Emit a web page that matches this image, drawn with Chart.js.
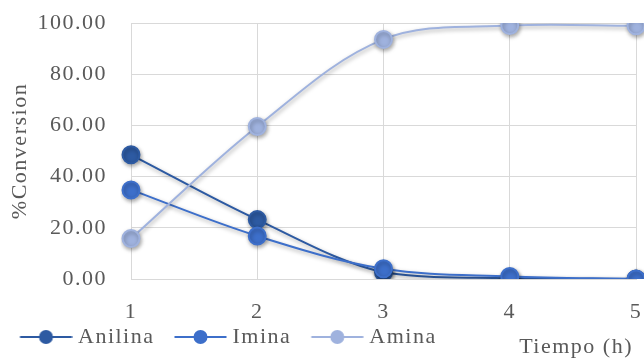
<!DOCTYPE html>
<html>
<head>
<meta charset="utf-8">
<script src="https://cdn.jsdelivr.net/npm/chart.js@4/dist/chart.umd.min.js"></script>
<style>
  html, body { margin: 0; padding: 0; background: #ffffff; }
  #wrap { width: 644px; height: 358px; position: relative; }
</style>
</head>
<body>
<div id="wrap"><canvas id="c" width="644" height="358"></canvas></div>
<script>
const categories = ['1', '2', '3', '4', '5'];
const seriesNames = ['Anilina', 'Imina', 'Amina'];
const anilina = [48.5, 23.2, 2.6, 0.3, 0.0];
const imina = [34.8, 16.8, 4.0, 1.0, 0.0];
const amina = [15.8, 59.6, 93.6, 99.0, 98.9];
const yTicks = [0, 20, 40, 60, 80, 100];
const colors = ['#2D5AA2', '#3D6FCA', '#9FB2DE'];

const FONT = 'Liberation Serif';
const TEXT = '#595959';
const SPACING = '1.5px';

function legendIcon(color) {
  const c = document.createElement('canvas');
  c.width = 78; c.height = 18;
  const g = c.getContext('2d');
  g.strokeStyle = color; g.lineWidth = 2;
  g.beginPath(); g.moveTo(25.5, 9); g.lineTo(77.5, 9); g.stroke();
  g.fillStyle = color;
  g.beginPath(); g.arc(51.5, 9, 7, 0, Math.PI * 2); g.fill();
  return c;
}

const shadowPlugin = {
  id: 'shadow',
  beforeDatasetsDraw(chart) {
    const ctx = chart.ctx;
    ctx.save();
    ctx.shadowColor = 'rgba(0,0,0,0.35)';
    ctx.shadowBlur = 4;
    ctx.shadowOffsetX = 1;
    ctx.shadowOffsetY = 2;
  },
  afterDatasetsDraw(chart) { chart.ctx.restore(); }
};

const spacingPlugin = {
  id: 'spacing',
  beforeInit(chart) { chart.ctx.letterSpacing = SPACING; },
  beforeUpdate(chart) { chart.ctx.letterSpacing = SPACING; },
  beforeDraw(chart) { chart.ctx.letterSpacing = SPACING; }
};

const xTitlePlugin = {
  id: 'xTitle',
  afterDraw(chart) {
    const ctx = chart.ctx;
    ctx.save();
    ctx.letterSpacing = SPACING;
    ctx.font = '22px "' + FONT + '"';
    ctx.fillStyle = TEXT;
    ctx.textAlign = 'right';
    ctx.textBaseline = 'alphabetic';
    ctx.fillText('Tiempo (h)', chart.chartArea.right - 3, 353);
    ctx.restore();
  }
};

const seriesData = [anilina, imina, amina];
const datasets = seriesNames.map((name, i) => ({
  label: name,
  data: seriesData[i],
  borderColor: colors[i],
  backgroundColor: colors[i],
  pointBackgroundColor: colors[i],
  pointBorderColor: colors[i],
  pointRadius: 8.5,
  pointHoverRadius: 8.5,
  borderWidth: 2,
  tension: 0.35,
  pointStyle: 'circle',
  order: 3 - i
}));

document.getElementById('c').getContext('2d').letterSpacing = SPACING;

new Chart(document.getElementById('c'), {
  type: 'line',
  data: { labels: categories, datasets },
  plugins: [spacingPlugin, shadowPlugin, xTitlePlugin],
  options: {
    responsive: false,
    animation: false,
    devicePixelRatio: 1,
    layout: { autoPadding: false, padding: { top: 23, right: 8, left: 0, bottom: 0 } },
    plugins: {
      tooltip: { enabled: false },
      legend: {
        position: 'bottom',
        align: 'start',
        labels: {
          usePointStyle: true,
          pointStyleWidth: 67,
          padding: 0,
          color: TEXT,
          font: { family: FONT, size: 22 },
          generateLabels(chart) {
            return chart.data.datasets.map((ds, i) => ({
              text: ds.label,
              pointStyle: legendIcon(ds.borderColor),
              fillStyle: ds.borderColor,
              strokeStyle: ds.borderColor,
              lineWidth: 0,
              datasetIndex: i,
              hidden: false,
              fontColor: TEXT
            }));
          }
        }
      }
    },
    scales: {
      x: {
        type: 'category',
        offset: false,
        grid: { color: '#D9D9D9', lineWidth: 1, drawTicks: false },
        border: { color: '#D9D9D9' },
        ticks: { color: TEXT, font: { family: FONT, size: 22 }, padding: 20, maxRotation: 0 },
        afterFit(scale) {
          scale.height = 47;
          scale.paddingLeft = 0; scale.paddingRight = 0;
        }
      },
      y: {
        min: 0,
        max: 100,
        afterBuildTicks(scale) { scale.ticks = yTicks.map(v => ({ value: v })); },
        grid: { color: '#D9D9D9', lineWidth: 1, drawTicks: false },
        border: { color: '#D9D9D9' },
        ticks: {
          color: TEXT,
          font: { family: FONT, size: 22 },
          padding: 24,
          callback: v => Number(v).toFixed(2)
        },
        title: {
          display: true,
          text: '%Conversion',
          color: TEXT,
          font: { family: FONT, size: 22 },
          padding: { top: 7, bottom: 0 }
        },
        afterFit(scale) {
          scale.width = 131;
          scale.paddingTop = 0; scale.paddingBottom = 0;
        }
      }
    }
  }
});
</script>
</body>
</html>
